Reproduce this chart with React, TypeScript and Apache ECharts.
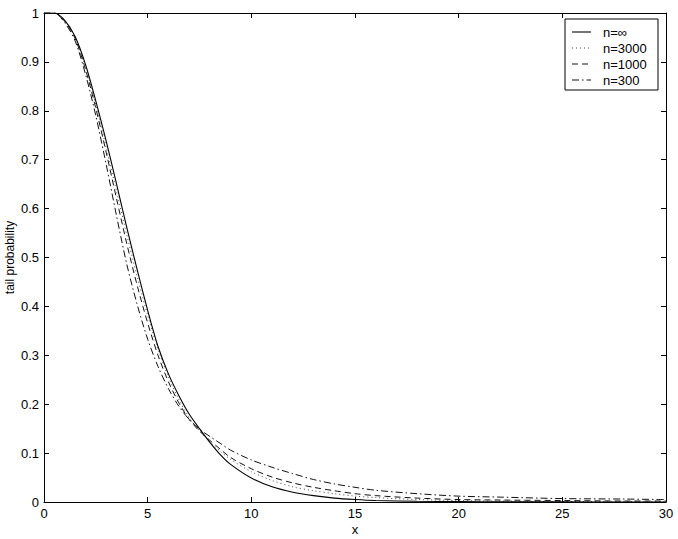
import React, { useEffect, useRef } from "react";
import * as echarts from "echarts";

const xs = [0, 0.5, 1, 1.5, 2, 2.5, 3, 3.5, 4, 4.5, 5, 5.5, 6, 6.5, 7, 7.5, 8, 8.5, 9, 10, 11, 12, 13, 14, 15, 16, 18, 20, 22, 25, 28, 30];

const nInf = [1.0, 1.0, 0.985, 0.952, 0.895, 0.82, 0.738, 0.65, 0.56, 0.474, 0.392, 0.318, 0.262, 0.218, 0.18, 0.15, 0.122, 0.097, 0.077, 0.049, 0.031, 0.02, 0.013, 0.008, 0.005, 0.003, 0.0015, 0.0008, 0.0004, 0.0002, 0.0001, 0.0];
const n3000 = [1.0, 1.0, 0.984, 0.95, 0.89, 0.812, 0.725, 0.635, 0.545, 0.46, 0.382, 0.313, 0.256, 0.21, 0.173, 0.146, 0.123, 0.104, 0.087, 0.062, 0.044, 0.031, 0.023, 0.017, 0.012, 0.009, 0.005, 0.003, 0.002, 0.001, 0.001, 0.0005];
const n1000 = [1.0, 1.0, 0.983, 0.948, 0.885, 0.805, 0.715, 0.62, 0.527, 0.442, 0.366, 0.3, 0.246, 0.203, 0.169, 0.145, 0.126, 0.108, 0.091, 0.068, 0.051, 0.039, 0.03, 0.023, 0.017, 0.013, 0.008, 0.005, 0.004, 0.003, 0.002, 0.002];
const n300 = [1.0, 1.0, 0.98, 0.943, 0.875, 0.79, 0.69, 0.585, 0.485, 0.403, 0.333, 0.277, 0.232, 0.196, 0.169, 0.149, 0.134, 0.12, 0.106, 0.086, 0.071, 0.058, 0.046, 0.037, 0.03, 0.024, 0.017, 0.012, 0.01, 0.007, 0.006, 0.005];

const legendLabels = ["n=\u221e", "n=3000", "n=1000", "n=300"];
const xTicks = { min: 0, max: 30, interval: 5 };
const yTicks = { min: 0, max: 1, interval: 0.1 };

const FONT = "Liberation Sans, Arial, Helvetica, sans-serif";

const styles = [
  { type: "solid" as any, color: "#000", width: 1.1 },
  { type: [1, 3] as any, color: "#444", width: 1 },
  { type: [6, 4] as any, color: "#111", width: 1 },
  { type: [7, 3, 1.5, 3] as any, color: "#111", width: 1 },
];

export default function App() {
  const ref = useRef<HTMLDivElement>(null);
  useEffect(() => {
    document.body.style.margin = "0";
    const chart = echarts.init(ref.current!, undefined, { renderer: "svg" });
    const all = [nInf, n3000, n1000, n300];
    const series = all.map((vals, i) => ({
      name: legendLabels[i],
      type: "line",
      xAxisIndex: 0,
      yAxisIndex: 0,
      data: xs.map((x, k) => [x, vals[k]]),
      showSymbol: false,
      symbol: "none",
      smooth: 0.3,
      lineStyle: { type: styles[i].type, color: styles[i].color, width: styles[i].width },
      z: 5 - i,
    }));

    const legendX = 565, legendY = 19, legendW = 93, legendH = 71;
    const rowY = [32, 48, 64, 80];
    const legendGraphics: any[] = [
      {
        type: "rect",
        shape: { x: legendX, y: legendY, width: legendW, height: legendH },
        style: { fill: "#fff", stroke: "#000", lineWidth: 1 },
        z: 100,
      },
    ];
    legendLabels.forEach((lab, i) => {
      legendGraphics.push({
        type: "line",
        shape: { x1: 572, y1: rowY[i], x2: 591, y2: rowY[i] },
        style: {
          stroke: styles[i].color,
          lineWidth: styles[i].width,
          lineDash: styles[i].type === "solid" ? null : styles[i].type,
        },
        z: 101,
      });
      legendGraphics.push({
        type: "text",
        x: 603,
        y: rowY[i],
        style: {
          text: lab,
          font: `13px ${FONT}`,
          fill: "#000",
          verticalAlign: "middle",
          align: "left",
        },
        z: 101,
      });
    });

    const axisCommon = {
      axisLine: { show: true, onZero: false, lineStyle: { color: "#000", width: 1 } },
      axisTick: { show: true, inside: true, length: 5, lineStyle: { color: "#000" } },
      splitLine: { show: false },
    };

    chart.setOption({
      animation: false,
      backgroundColor: "#fff",
      grid: { left: 44, right: 12, top: 13, bottom: 37, containLabel: false, outerBoundsMode: "none" },
      xAxis: [
        {
          type: "value",
          position: "bottom",
          ...xTicks,
          ...axisCommon,
          name: "x",
          nameLocation: "middle",
          nameGap: 21,
          nameMoveOverlap: false,
          nameTextStyle: { color: "#000", fontSize: 13, fontFamily: FONT },
          axisLabel: { color: "#000", fontSize: 13, fontFamily: FONT, margin: 5 },
        },
        {
          type: "value",
          position: "top",
          ...xTicks,
          ...axisCommon,
          axisLabel: { show: false },
        },
      ],
      yAxis: [
        {
          type: "value",
          position: "left",
          ...yTicks,
          ...axisCommon,
          name: "tail probability",
          nameLocation: "middle",
          nameGap: 28,
          nameMoveOverlap: false,
          nameTextStyle: { color: "#000", fontSize: 12, fontFamily: FONT },
          axisLabel: { color: "#000", fontSize: 13, fontFamily: FONT, margin: 5 },
        },
        {
          type: "value",
          position: "right",
          ...yTicks,
          ...axisCommon,
          axisLabel: { show: false },
        },
      ],
      series,
      graphic: legendGraphics,
    });
    return () => chart.dispose();
  }, []);
  return (
    <div
      ref={ref}
      style={{ position: "fixed", left: 0, top: 0, width: 678, height: 539, background: "#fff" }}
    />
  );
}
